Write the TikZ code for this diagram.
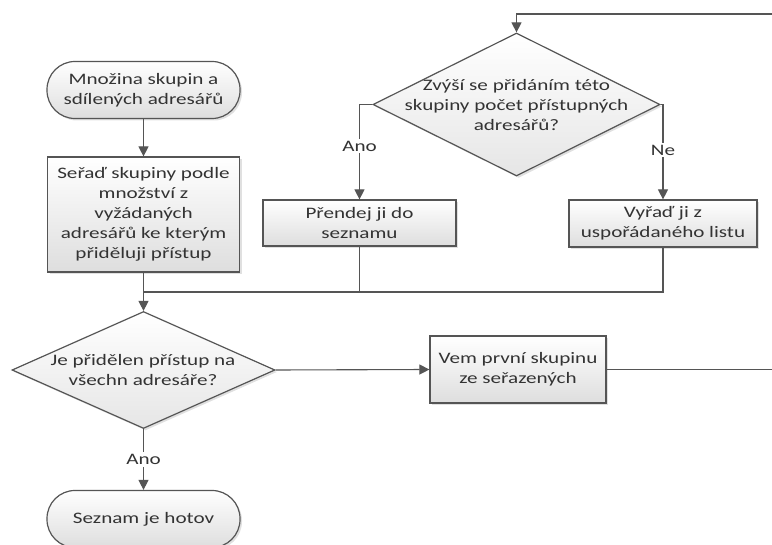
\documentclass[tikz,border=0pt]{standalone}
\usepackage{fontspec}
\setmainfont{Carlito}[FakeStretch=1.32]
\usetikzlibrary{arrows.meta,shapes.geometric,shadows}
\definecolor{ink}{HTML}{333333}
\definecolor{edge}{HTML}{555555}
\begin{document}
\begin{tikzpicture}[x=1pt,y=-1pt,
  font=\fontsize{16}{20}\selectfont,
  shade box/.style={draw=edge, line width=1.2pt, top color=white, bottom color=black!13,
    text=ink, align=center, inner sep=0pt,
    drop shadow={shadow xshift=2pt, shadow yshift=-2pt, fill=black, opacity=0.12}},
  term/.style={shade box, rectangle, rounded corners=28pt, minimum width=193pt, minimum height=57pt},
  proc/.style={shade box, rectangle},
  dia/.style={shade box, diamond, bottom color=black!10},
  lbl/.style={text=ink, align=center, inner sep=0pt},
  tag/.style={text=ink, fill=white, inner sep=2pt},
  link/.style={draw=edge, line width=1.1pt},
  arr/.style={link, -{Triangle[length=10pt,width=10pt]}},
]
\useasboundingbox (0,0) rectangle (772,545);
\fill[white] (0,0) rectangle (772,545);

% start and end terminators
\node[term] (start) at (143.5,90) {Množina skupin a\\sdílených adresářů};
\node[term] (done) at (143.5,519) {Seznam je hotov};

% process boxes
\node[proc, minimum width=192pt, minimum height=115pt] (sort) at (143.5,214.5)
  {Seřaď skupiny podle\\množství z\\vyžádaných\\adresářů ke kterým\\přiděluji přístup};
\node[proc, minimum width=193pt, minimum height=46pt] (add) at (359.5,223)
  {Přendej ji do\\seznamu};
\node[proc, minimum width=188pt, minimum height=47pt] (drop) at (663,223.5)
  {Vyřaď ji z\\uspořádaného listu};
\node[proc, minimum width=176pt, minimum height=67pt] (take) at (518,369.5)
  {Vem první skupinu\\ze seřazených};

% decisions
\node[dia, minimum width=263pt, minimum height=117pt] (all) at (143.5,370) {};
\node[lbl] (allt) at (143,370) {Je přidělen přístup na\\všechn adresáře?};
\node[dia, minimum width=287pt, minimum height=143pt] (more) at (516.5,104.5) {};
\node[lbl] (moret) at (516.5,105) {Zvýší se přidáním této\\skupiny počet přístupných\\adresářů?};

% junction and loose ends at the right margin
\coordinate (join) at (143.5,292);
\coordinate (outR) at (772,369.5);
\coordinate (inT) at (772,14);

% connectors
\draw[arr] (start) -- (sort);
\draw[link] (sort) -- (join);
\draw[arr] (join) -- (all.north);
\draw[link] (add.south) |- (join);
\draw[link] (drop.south) |- (join);
\draw[arr] (all.south) -- node[tag, pos=0.5] {Ano} (done.north);
\draw[arr] (all.east) -- (take.west);
\draw[link] (take.east) -- (outR);
\draw[arr] (inT) -| (more.north);
\draw[arr] (more.west) -| node[tag, pos=0.72] {Ano} (add.north);
\draw[arr] (more.east) -| node[tag, pos=0.74] {Ne} (drop.north);
\end{tikzpicture}
\end{document}
